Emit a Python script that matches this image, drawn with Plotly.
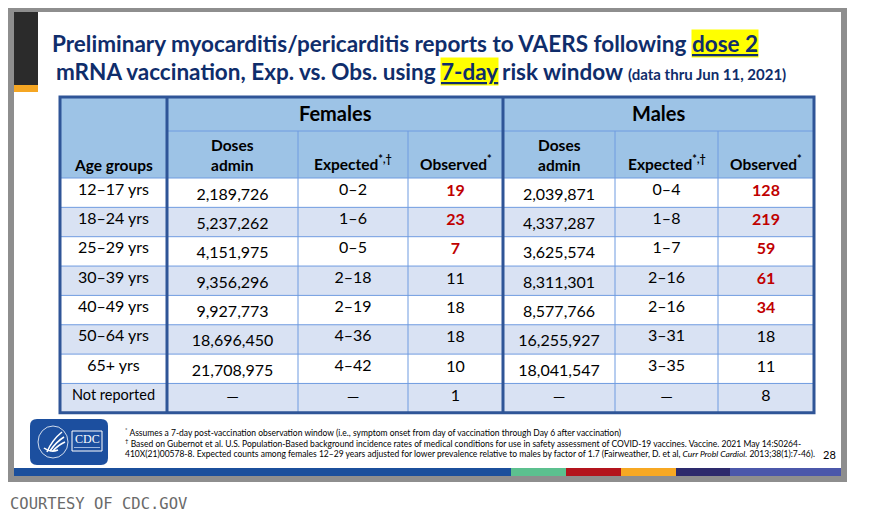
import plotly.graph_objects as go

# table data
age_groups = ["12–17 yrs", "18–24 yrs", "25–29 yrs", "30–39 yrs", "40–49 yrs",
              "50–64 yrs", "65+ yrs", "Not reported"]
f_doses = ["2,189,726", "5,237,262", "4,151,975", "9,356,296", "9,927,773",
           "18,696,450", "21,708,975", "—"]
f_expected = ["0–2", "1–6", "0–5", "2–18", "2–19", "4–36", "4–42", "—"]
f_observed = [19, 23, 7, 11, 18, 18, 10, 1]
m_doses = ["2,039,871", "4,337,287", "3,625,574", "8,311,301", "8,577,766",
           "16,255,927", "18,041,547", "—"]
m_expected = ["0–4", "1–8", "1–7", "2–16", "2–16", "3–31", "3–35", "—"]
m_observed = [128, 219, 59, 61, 34, 18, 11, 8]

sub_headers = ["Doses<br>admin", "Expected<sup>*,†</sup>", "Observed<sup>*</sup>"]
bar_colors = ["#1b4f9c", "#5cc08f", "#b3141d", "#f7a823", "#2d2a6c", "#4b57aa"]

FONT = "Lato, sans-serif"
NAVY = "#0f2d6b"
DARK_BLUE = "#2f5597"
THIN = "#6f9be0"
HEAD_BG = "#9dc3e6"
ALT_BG = "#d9e2f3"
RED = "#c00000"

# geometry in page pixels (page body has an 8px margin, axes are offset to match)
col_x = [60, 167, 298, 408, 503, 615, 718, 814]
top, h1, h2 = 97, 131, 178
row_h = 29.35
row_y = [h2 + i * row_h for i in range(len(age_groups) + 1)]


def upper(r):
    return int(r.split("–")[1]) if "–" in r else None


def is_high(obs, exp):
    u = upper(exp)
    return u is not None and obs > u


fig = go.Figure()
shapes = []
annots = []

# slide frame
shapes.append(dict(type="rect", x0=8, x1=847, y0=6, y1=482, fillcolor="#8e8e8e", line_width=0, layer="below"))
shapes.append(dict(type="rect", x0=14, x1=841, y0=12, y1=476, fillcolor="white", line_width=0, layer="below"))
shapes.append(dict(type="rect", x0=14, x1=38, y0=12, y1=85, fillcolor="#2b2b2b", line_width=0, layer="below"))
shapes.append(dict(type="rect", x0=14, x1=38, y0=85, y1=92, fillcolor="#f5a623", line_width=0, layer="below"))

# bottom colour strip
strip_x = [14, 511, 566, 621, 676, 730, 841]
for i, c in enumerate(bar_colors):
    shapes.append(dict(type="rect", x0=strip_x[i], x1=strip_x[i + 1], y0=468, y1=476,
                       fillcolor=c, line_width=0, layer="below"))

# header backgrounds
shapes.append(dict(type="rect", x0=col_x[0], x1=col_x[-1], y0=top, y1=h2, fillcolor=HEAD_BG, line_width=0, layer="below"))
for i in range(len(age_groups)):
    bg = "white" if i % 2 == 0 else ALT_BG
    shapes.append(dict(type="rect", x0=col_x[0], x1=col_x[-1], y0=row_y[i], y1=row_y[i + 1],
                       fillcolor=bg, line_width=0, layer="below"))

# thin inner lines
for y in row_y[1:-1]:
    shapes.append(dict(type="line", x0=col_x[0], x1=col_x[-1], y0=y, y1=y, line=dict(color=THIN, width=1)))
shapes.append(dict(type="line", x0=col_x[1], x1=col_x[-1], y0=h1, y1=h1, line=dict(color=THIN, width=1)))
shapes.append(dict(type="line", x0=col_x[0], x1=col_x[-1], y0=h2, y1=h2, line=dict(color=THIN, width=1)))
for k in [2, 3, 5, 6]:
    shapes.append(dict(type="line", x0=col_x[k], x1=col_x[k], y0=h1, y1=row_y[-1], line=dict(color=THIN, width=1)))

# thick borders
for k in [1, 4]:
    shapes.append(dict(type="line", x0=col_x[k], x1=col_x[k], y0=top, y1=row_y[-1], line=dict(color=DARK_BLUE, width=3)))
shapes.append(dict(type="rect", x0=col_x[0], x1=col_x[-1], y0=top, y1=row_y[-1], line=dict(color=DARK_BLUE, width=3)))

# header text
annots.append(dict(x=(col_x[1] + col_x[4]) / 2, y=(top + h1) / 2 - 1, text="<b>Females</b>",
                   font=dict(size=20, color="black", family=FONT)))
annots.append(dict(x=(col_x[4] + col_x[-1]) / 2, y=(top + h1) / 2 - 1, text="<b>Males</b>",
                   font=dict(size=20, color="black", family=FONT)))
annots.append(dict(x=(col_x[0] + col_x[1]) / 2, y=h2 - 13, text="<b>Age groups</b>",
                   font=dict(size=15.5, color="black", family=FONT)))
for base in [1, 4]:
    for j, t in enumerate(sub_headers):
        cx = (col_x[base + j] + col_x[base + j + 1]) / 2
        cy = (h1 + h2) / 2 + (0 if j == 0 else 8)
        annots.append(dict(x=cx, y=cy, text="<b>" + t + "</b>",
                           font=dict(size=15.5, color="black", family=FONT)))

for a in annots:
    a.update(xref="x", yref="y", showarrow=False, xanchor="center", yanchor="middle")

mids = [(row_y[i] + row_y[i + 1]) / 2 for i in range(len(age_groups))]


def add_col(k, texts, dy, colors=None, sizes=16):
    cx = (col_x[k] + col_x[k + 1]) / 2
    ys = [m + (dy if t != "—" else 0) for m, t in zip(mids, texts)]
    fig.add_trace(go.Scatter(
        x=[cx] * len(texts), y=ys, text=texts, mode="text",
        textposition="middle center",
        textfont=dict(family=FONT, size=sizes, color=colors or "black"),
        hoverinfo="skip", showlegend=False))


def obs_cells(obs, exp):
    txt, col = [], []
    for o, e in zip(obs, exp):
        if is_high(o, e):
            txt.append("<b>%d</b>" % o)
            col.append(RED)
        else:
            txt.append(str(o))
            col.append("black")
    return txt, col


add_col(0, age_groups, -2, sizes=[16 if len(a) < 10 else 14.5 for a in age_groups])
add_col(1, f_doses, 3)
add_col(2, f_expected, -2)
t, c = obs_cells(f_observed, f_expected)
add_col(3, t, -1, c)
add_col(4, m_doses, 3)
add_col(5, m_expected, -2)
t, c = obs_cells(m_observed, m_expected)
add_col(6, t, -1, c)

# title with highlighted words
tf = dict(family=FONT, size=22.5, color=NAVY)
title_parts = [
    dict(x=688, y=43, text="<b>Preliminary myocarditis/pericarditis reports to VAERS following</b>", xanchor="right"),
    dict(x=691, y=43, text="<b><u>dose 2</u></b>", xanchor="left", bgcolor="#ffff00"),
    dict(x=437, y=71, text="<b>mRNA vaccination, Exp. vs. Obs. using</b>", xanchor="right"),
    dict(x=440, y=71, text="<b><u>7-day</u></b>", xanchor="left", bgcolor="#ffff00"),
    dict(x=501, y=71, text="<b>risk window <span style='font-size:15px'>(data thru Jun 11, 2021)</span></b>",
         xanchor="left"),
]
for p in title_parts:
    p.update(xref="x", yref="y", showarrow=False, yanchor="middle", font=tf, borderpad=0)
    annots.append(p)

# footnotes
ff = dict(family=FONT, size=8.5, color="black")
notes = [
    (432, "<sup>*</sup> Assumes a 7-day post-vaccination observation window (i.e., symptom onset from day of vaccination through Day 6 after vaccination)"),
    (443, "<sup>†</sup> Based on Gubernot et al. U.S. Population-Based background incidence rates of medical conditions for use in safety assessment of COVID-19 vaccines. Vaccine. 2021 May 14:S0264-"),
    (454, "410X(21)00578-8. Expected counts among females 12–29 years adjusted for lower prevalence relative to males by factor of 1.7 (Fairweather, D. et al, <i>Curr Probl Cardiol.</i> 2013;38(1):7-46)."),
]
for y, t in notes:
    annots.append(dict(x=123, y=y, text=t, xref="x", yref="y", showarrow=False,
                       xanchor="left", yanchor="middle", font=ff))
annots.append(dict(x=829, y=454, text="28", xref="x", yref="y", showarrow=False,
                   xanchor="center", yanchor="middle", font=dict(family=FONT, size=11, color="black")))

# CDC logo (simplified)
x0, x1, y0, y1, r = 30, 108, 419, 465, 7
logo = ("M %d,%d L %d,%d Q %d,%d %d,%d L %d,%d Q %d,%d %d,%d L %d,%d Q %d,%d %d,%d L %d,%d Q %d,%d %d,%d Z"
        % (x0 + r, y0, x1 - r, y0, x1, y0, x1, y0 + r, x1, y1 - r, x1, y1, x1 - r, y1,
           x0 + r, y1, x0, y1, x0, y1 - r, x0, y0 + r, x0, y0, x0 + r, y0))
shapes.append(dict(type="path", path=logo, fillcolor="#1c4f9f", line_width=0))
shapes.append(dict(type="circle", x0=38, x1=68, y0=426, y1=458, line=dict(color="white", width=0.8)))
for path in ["M 47,452 Q 52,440 62,432", "M 50,451 Q 56,442 64,437", "M 53,451 Q 58,445 65,442",
             "M 44,448 Q 50,453 58,450"]:
    shapes.append(dict(type="path", path=path, line=dict(color="white", width=1.6)))
shapes.append(dict(type="rect", x0=72, x1=102, y0=431, y1=451, fillcolor="#1c4f9f", line=dict(color="white", width=1)))
shapes.append(dict(type="line", x0=74, x1=100, y0=447.5, y1=447.5, line=dict(color="#9fb8e0", width=1)))
annots.append(dict(x=87, y=439, text="CDC", xref="x", yref="y", showarrow=False,
                   font=dict(family="Liberation Serif, serif", size=12, color="white")))

# credit line
annots.append(dict(x=8, y=504, text="COURTESY OF CDC.GOV", xref="x", yref="y", showarrow=False,
                   xanchor="left", yanchor="middle",
                   font=dict(family="DejaVu Sans Mono, monospace", size=15.5, color="#6a6a6a")))

fig.update_layout(
    width=884, height=508,
    margin=dict(l=0, r=0, t=0, b=0),
    paper_bgcolor="white", plot_bgcolor="white",
    xaxis=dict(range=[8, 892], visible=False, fixedrange=True),
    yaxis=dict(range=[516, 8], visible=False, fixedrange=True),
    shapes=shapes, annotations=annots,
)

fig.write_html("out.html")
